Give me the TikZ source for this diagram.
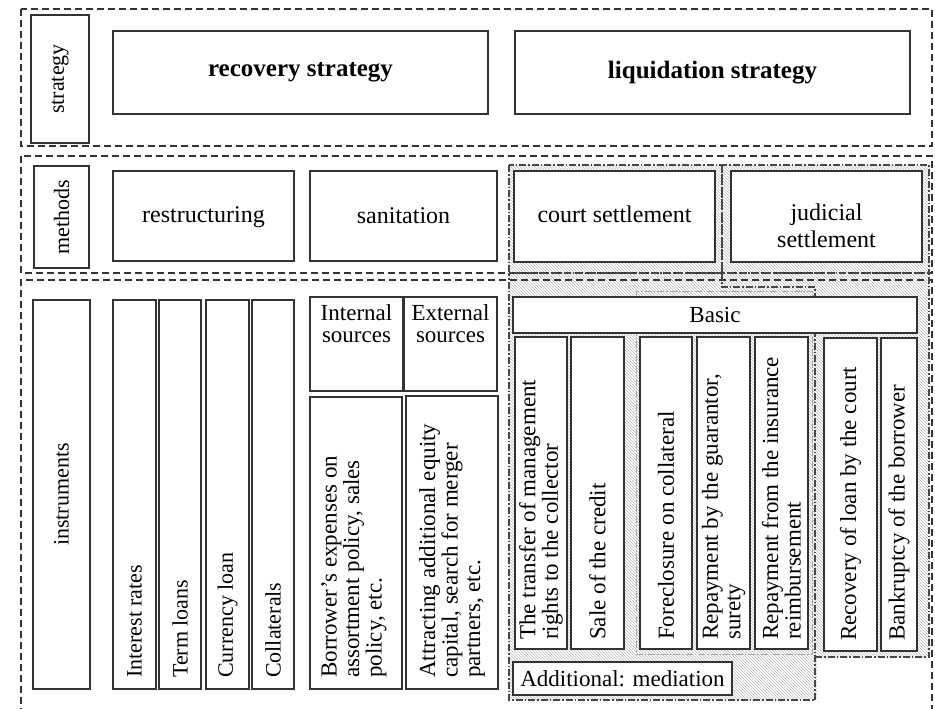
\documentclass[tikz,border=0pt]{standalone}
\usepackage{fontspec}
\setmainfont{Liberation Serif}
\usetikzlibrary{patterns}
\newcommand\myfs[2]{\fontsize{#1}{#2}\selectfont}
\newcommand\boxat[5]{%
  \node[box, minimum width={#4-#2}, minimum height={#5-#3}] (#1) at ({(#2+#4)/2},{(#3+#5)/2}) {};}
\tikzset{
  rowframe/.style={draw=black!80, line width=1.2pt, dash pattern=on 7pt off 4pt},
  ddframe/.style={draw=black!72, line width=1.2pt, dash pattern=on 7pt off 2pt on 1.5pt off 2pt},
  ddlight/.style={draw=black!35, line width=1pt, dash pattern=on 7pt off 2pt on 1.5pt off 2pt},
  hatch/.style={pattern=north west lines, pattern color=black!28},
  box/.style={draw=black!80, line width=1.4pt, fill=white, inner sep=0pt, outer sep=0pt},
  txt/.style={inner sep=0pt, align=center, font=\myfs{24}{24}},
  vlab/.style={inner sep=0pt, rotate=90, font=\myfs{22}{22}},
  vtxt/.style={inner sep=0pt, rotate=90, anchor=west, align=left, font=\myfs{22}{22}},
  vtxtr/.style={inner sep=0pt, rotate=90, anchor=west, align=left, font=\myfs{23}{22.5}},
}
\begin{document}
\begin{tikzpicture}[x=1pt,y=-1pt]
\useasboundingbox (0,0) rectangle (935,709);
% hatched settlement areas
\fill[hatch] (509,165) -- (929,165) -- (929,657) -- (817,657) -- (817,700) -- (509,700) -- cycle;
% row frames
\draw[rowframe] (21,9) rectangle (932,146);
\draw[rowframe] (21,156) rectangle (932,273);
\draw[rowframe] (21,715) -- (21,280) -- (932,280) -- (932,715);
% dash-dot frames
\draw[ddframe] (509,165) rectangle (722,273);
\draw[ddframe] (722,165) rectangle (929,273);
\draw[ddframe] (722,273) -- (722,287) -- (815,287) -- (815,700) -- (509,700) -- (509,273);
\draw[ddframe] (815,657) -- (929,657) -- (929,273);
\draw[ddlight] (636,291) rectangle (812,654);
% row 1
\boxat{strat}{31}{15}{89}{143}
\node[vlab] (t-strat) at (strat) {strategy};
\boxat{rec}{113}{31}{488}{114}
\node[txt, font=\myfs{25}{25}\bfseries] (t-rec) at (rec) {recovery strategy};
\boxat{liq}{515}{31}{910}{114}
\node[txt, font=\myfs{25}{25}\bfseries] (t-liq) at (liq) {liquidation strategy};
% row 2
\boxat{meth}{34}{166}{89}{268}
\node[vlab] (t-meth) at (meth) {methods};
\boxat{restr}{113}{171}{294}{261}
\node[txt] (t-restr) at (203.5,217) {restructuring};
\boxat{sanit}{310}{171}{497}{261}
\node[txt] (t-sanit) at (sanit) {sanitation};
\boxat{court}{514}{171}{715}{262}
\node[txt] (t-court) at (614.5,214) {court settlement};
\boxat{judic}{731}{171}{922}{262}
\node[txt, font=\myfs{24}{27}] (t-judic) at (826.5,226) {judicial\\settlement};
% row 3 left
\boxat{instr}{33}{300}{90}{689}
\node[vlab] (t-instr) at (instr) {instruments};
\boxat{ir}{113}{300}{156}{689}
\node[vtxt] (t-ir) at (134.5,678) {Interest rates};
\boxat{tl}{159}{300}{201}{689}
\node[vtxt] (t-tl) at (180,678) {Term loans};
\boxat{cl}{206}{300}{249}{689}
\node[vtxt] (t-cl) at (227.5,678) {Currency loan};
\boxat{coll}{252}{300}{294}{689}
\node[vtxt] (t-coll) at (273,678) {Collaterals};
\boxat{ints}{310}{297}{403}{391}
\node[txt, anchor=north, font=\myfs{23}{22}] (t-ints) at (356.5,304) {Internal\\sources};
\boxat{exts}{404}{297}{497}{391}
\node[txt, anchor=north, font=\myfs{23}{22}] (t-exts) at (450.5,304) {External\\sources};
\boxat{borr}{310}{397}{402}{689}
\node[vtxtr] (t-borr) at (354,678) {Borrower’s expenses on\\assortment policy, sales\\policy, etc.};
\boxat{attr}{406}{396}{498}{689}
\node[vtxtr] (t-attr) at (452,678) {Attracting additional equity\\capital, search for merger\\partners, etc.};
% row 3 right
\boxat{basic}{513}{297}{917}{333}
\node[txt, font=\myfs{23}{23}] (t-basic) at (basic) {Basic};
\boxat{c1}{515}{337}{567}{649}
\node[vtxtr] (t-c1) at (541,640) {The transfer of management\\rights to the collector};
\boxat{c2}{571}{337}{624}{649}
\node[vtxtr] (t-c2) at (597.5,640) {Sale of the credit};
\boxat{c3}{640}{337}{692}{649}
\node[vtxtr] (t-c3) at (666,640) {Foreclosure on collateral};
\boxat{c4}{697}{337}{750}{649}
\node[vtxtr] (t-c4) at (723.5,640) {Repayment by the guarantor,\\surety};
\boxat{c5}{755}{337}{808}{649}
\node[vtxtr] (t-c5) at (781.5,640) {Repayment from the insurance\\reimbursement};
\boxat{c6}{824}{338}{877}{651}
\node[vtxtr] (t-c6) at (850.5,641) {Recovery of loan by the court};
\boxat{c7}{881}{338}{917}{651}
\node[vtxtr] (t-c7) at (899,641) {Bankruptcy of the borrower};
\boxat{med}{513}{662}{732}{695}
\node[txt, font=\myfs{23}{23}] (t-med) at (med) {Additional: mediation};
\end{tikzpicture}
\end{document}
